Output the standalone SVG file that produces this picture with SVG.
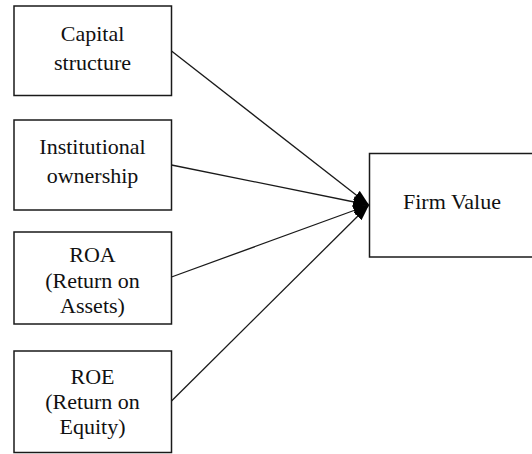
<svg xmlns="http://www.w3.org/2000/svg" width="532" height="454" viewBox="0 0 532 454">
  <style>
    .box { fill: #ffffff; stroke: #1a1a1a; stroke-width: 1.5; }
    .lbl { font-family: "Liberation Serif", "Times New Roman", serif; font-size: 22px; fill: #111111; text-anchor: middle; }
    .conn { fill: none; stroke: #1a1a1a; stroke-width: 1.3; }
  </style>
  <defs>
    <marker id="arrow" markerUnits="userSpaceOnUse" markerWidth="16" markerHeight="11" refX="16" refY="5.5" orient="auto">
      <path d="M0,0 L16,5.5 L0,11 z" fill="#000000"/>
    </marker>
  </defs>
  <rect width="532" height="454" fill="#ffffff"/>

  <g id="capital-structure">
    <rect class="box" x="14" y="6" width="157.5" height="89.5"/>
    <text class="lbl" x="92.5" y="41">Capital</text>
    <text class="lbl" x="92.5" y="70">structure</text>
  </g>

  <g id="institutional-ownership">
    <rect class="box" x="14" y="120" width="157.5" height="90"/>
    <text class="lbl" x="92.5" y="154">Institutional</text>
    <text class="lbl" x="92.5" y="183">ownership</text>
  </g>

  <g id="roa">
    <rect class="box" x="14" y="232" width="157.5" height="92"/>
    <text class="lbl" x="92.5" y="262">ROA</text>
    <text class="lbl" x="92.5" y="288">(Return on</text>
    <text class="lbl" x="92.5" y="313">Assets)</text>
  </g>

  <g id="roe">
    <rect class="box" x="14" y="351" width="157.5" height="101.5"/>
    <text class="lbl" x="92.5" y="384">ROE</text>
    <text class="lbl" x="92.5" y="409">(Return on</text>
    <text class="lbl" x="92.5" y="434">Equity)</text>
  </g>

  <g id="firm-value">
    <rect class="box" x="369.5" y="153.5" width="180" height="103.5"/>
    <text class="lbl" x="452" y="209">Firm Value</text>
  </g>

  <g id="connectors">
    <line class="conn" x1="171.5" y1="51" x2="369" y2="205" marker-end="url(#arrow)"/>
    <line class="conn" x1="171.5" y1="165" x2="369" y2="205" marker-end="url(#arrow)"/>
    <line class="conn" x1="171.5" y1="277" x2="369" y2="205" marker-end="url(#arrow)"/>
    <line class="conn" x1="171.5" y1="401" x2="369" y2="205" marker-end="url(#arrow)"/>
  </g>
</svg>
